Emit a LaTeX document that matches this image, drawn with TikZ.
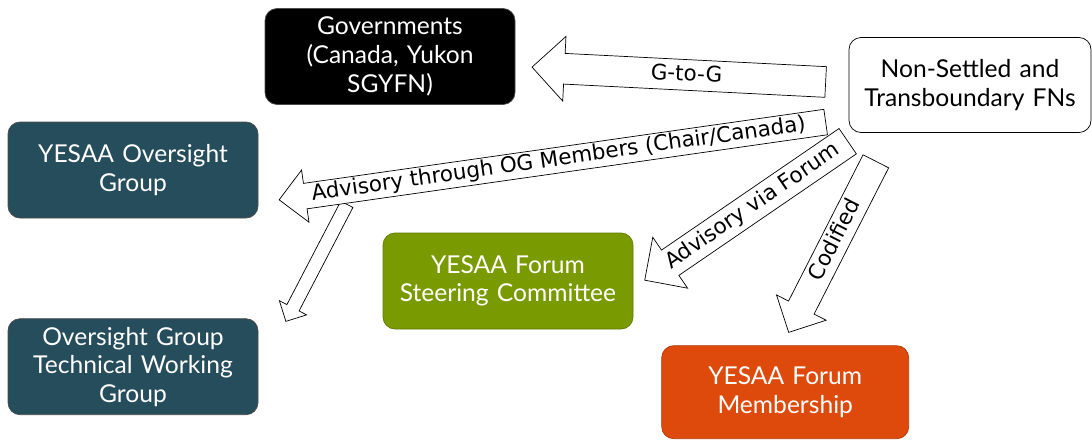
\documentclass[tikz,border=0pt]{standalone}
\usepackage{fontspec}
\setmainfont{Lato}
\newfontfamily\arrowfont{DejaVu Sans}
\usepackage{xcolor}
\usetikzlibrary{shapes.arrows, positioning}
\definecolor{ogteal}{HTML}{264D5B}
\definecolor{forumgreen}{HTML}{7A9A01}
\definecolor{memberorange}{HTML}{DD4A0B}

\begin{document}
\begin{tikzpicture}
\tikzstyle{body} = [rectangle, rounded corners=0.24cm, draw=black!70, text=white, text width=4.8cm, align=center, minimum width=5cm, minimum height=1.92cm, inner sep=0pt, font=\fontsize{14}{16.3}\selectfont]
\tikzstyle{flow} = [single arrow, draw, fill=white, inner sep=0pt, shape border rotate=180, anchor=tail, text height=0.42cm, text depth=0.18cm, single arrow head extend=0.34cm, font=\arrowfont\fontsize{12.2}{14}\selectfont]

\useasboundingbox (0,0) rectangle (21.84,-8.8);

\node (gov) [body, fill=black] at (7.8,-1.13) {Governments\\(Canada, Yukon\\SGYFN)};
\node (nsfn) [body, fill=white, text=black, draw=black, minimum width=4.84cm, minimum height=1.9cm] at (19.4,-1.7) {Non-Settled and\\Transboundary FNs};
\node (yog) [body, fill=ogteal] at (2.66,-3.4) {YESAA Oversight\\Group};
\node (tw) [body, fill=ogteal, below=2cm of yog] {Oversight Group\\Technical Working\\Group};
\node (fsc) [body, fill=forumgreen, draw=forumgreen!80!black] at (10.16,-5.62) {YESAA Forum\\Steering Committee};
\node (fm) [body, fill=memberorange, draw=memberorange!80!black, minimum width=4.94cm, minimum height=1.86cm, below right=0.32cm and 0.56cm of fsc] {YESAA Forum\\Membership};

\node (advtw) [flow, rotate=62.5, minimum height=2.64cm, text height=0.26cm, text depth=0cm, single arrow head extend=0.17cm] at (6.94,-4.08) {};
\node (gtog) [flow, rotate=-2.9, minimum height=5.88cm] at (16.52,-1.64) {G-to-G};
\node (advog) [flow, rotate=8.1, minimum height=11.04cm, text height=0.36cm, text depth=0.14cm, single arrow head extend=0.27cm] at (16.52,-2.44) {Advisory through OG Members (Chair/Canada)};
\node (advf) [flow, rotate=34.4, minimum height=4.92cm, single arrow head extend=0.31cm] at (16.96,-2.82) {Advisory via Forum};
\node (cod) [flow, rotate=63, minimum height=3.84cm, text height=0.39cm, text depth=0.17cm, single arrow head extend=0.27cm] at (17.52,-3.22) {Codified};

\end{tikzpicture}
\end{document}
